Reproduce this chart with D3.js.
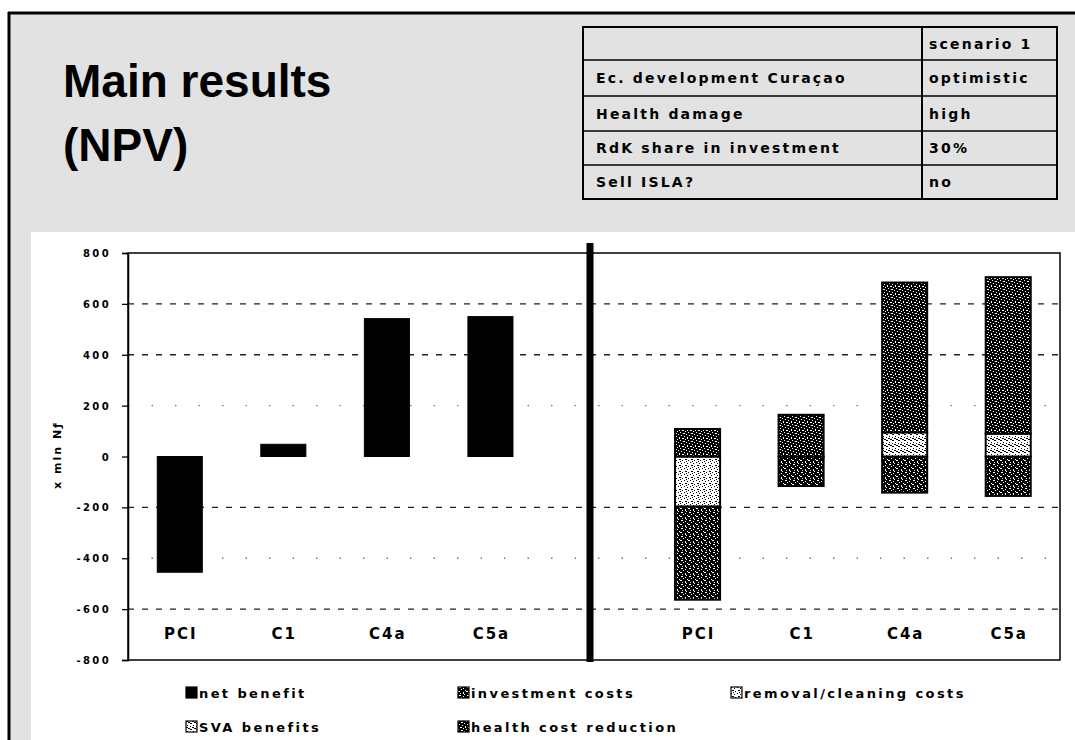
<!DOCTYPE html>
<html>
<head>
<meta charset="utf-8">
<script src="https://cdn.jsdelivr.net/npm/d3@7"></script>
<style>
  html, body { margin: 0; padding: 0; background: #fff; }
  svg { display: block; }
</style>
</head>
<body>
<svg id="slide" width="1075" height="740"></svg>
<script>
// ---- Slide content -------------------------------------------------------
const titleLines = ["Main results", "(NPV)"];

const tableHeader = "scenario 1";
const tableLabels = ["Ec. development Curaçao", "Health damage", "RdK share in investment", "Sell ISLA?"];
const tableValues = ["optimistic", "high", "30%", "no"];

// ---- Chart data (NPV, x mln Nƒ) -----------------------------------------
const categories = ["PCI", "C1", "C4a", "C5a"];
const netBenefit = [-455, 48, 542, 550];
const removalCleaningCosts = [-197, 0, 0, 0];
const investmentCosts = [-366, -116, -142, -155];
const svaBenefits = [0, 0, 95, 90];
const healthCostReduction = [108, 164, 589, 615];

const yTicks = [800, 600, 400, 200, 0, -200, -400, -600, -800];
const yAxisTitle = "x mln Nƒ";
const legendLabels = ["net benefit", "investment costs", "removal/cleaning costs", "SVA benefits", "health cost reduction"];

// ---- Setup ---------------------------------------------------------------
const svg = d3.select("#slide");
const smallFont = "'DejaVu Sans', 'Liberation Sans', Arial, sans-serif";
const titleFont = "'Liberation Sans', Arial, Helvetica, sans-serif";

// fill patterns for the stacked components
const defs = svg.append("defs");
function pattern(id, size, bg, fg, cells) {
  const p = defs.append("pattern").attr("id", id).attr("patternUnits", "userSpaceOnUse")
    .attr("width", size).attr("height", size);
  p.append("rect").attr("width", size).attr("height", size).attr("fill", bg);
  cells.forEach(([cx, cy, w, h]) => p.append("rect").attr("x", cx).attr("y", cy)
    .attr("width", w || 1).attr("height", h || 1).attr("fill", fg));
}
pattern("pInvest", 8, "#000", "#fff",
  [[1, 0, 2, 1], [5, 1], [3, 2], [7, 3], [0, 4, 2, 1], [5, 5, 1, 2], [2, 6], [6, 7]]);
pattern("pHealth", 8, "#000", "#fff",
  [[0, 0], [3, 1, 2, 1], [6, 2], [1, 3], [4, 4], [7, 5, 1, 2], [2, 6, 2, 1], [5, 7]]);
pattern("pRemoval", 6, "#fff", "#000", [[0, 0], [3, 1], [1, 3, 2, 1], [4, 4], [2, 5]]);
pattern("pSVA", 6, "#fff", "#000", [[0, 0, 2, 1], [2, 1, 2, 1], [4, 2, 2, 1], [1, 4], [4, 5]]);

const fills = {
  net: "#000",
  invest: "url(#pInvest)",
  removal: "url(#pRemoval)",
  sva: "url(#pSVA)",
  health: "url(#pHealth)"
};

// ---- Slide background and frame ------------------------------------------
svg.append("rect").attr("x", 9).attr("y", 13).attr("width", 1066).attr("height", 727).attr("fill", "#e2e2e2");
svg.append("rect").attr("x", 31).attr("y", 232).attr("width", 1044).attr("height", 508).attr("fill", "#fff");
svg.append("line").attr("x1", 8).attr("x2", 1075).attr("y1", 13).attr("y2", 13).attr("stroke", "#000").attr("stroke-width", 3);
svg.append("line").attr("x1", 9).attr("x2", 9).attr("y1", 12).attr("y2", 740).attr("stroke", "#000").attr("stroke-width", 3);

// title
svg.append("g").selectAll("text").data(titleLines).join("text")
  .attr("x", 63).attr("y", (d, i) => 97 + i * 64)
  .attr("font-family", titleFont).attr("font-weight", "bold").attr("font-size", 46)
  .attr("fill", "#000").text(d => d);

// scenario table
const table = { x0: 583, x1: 1057, xm: 922, rows: [27, 60, 96, 131, 165, 199] };
const tg = svg.append("g");
tg.append("rect").attr("x", table.x0).attr("y", table.rows[0])
  .attr("width", table.x1 - table.x0).attr("height", table.rows[5] - table.rows[0])
  .attr("fill", "none").attr("stroke", "#000").attr("stroke-width", 2);
tg.append("line").attr("x1", table.xm).attr("x2", table.xm).attr("y1", table.rows[0]).attr("y2", table.rows[5])
  .attr("stroke", "#000").attr("stroke-width", 2);
tg.selectAll("line.row").data(table.rows.slice(1, 5)).join("line").attr("class", "row")
  .attr("x1", table.x0).attr("x2", table.x1).attr("y1", d => d).attr("y2", d => d)
  .attr("stroke", "#000").attr("stroke-width", 1.5);
const rowMid = i => (table.rows[i] + table.rows[i + 1]) / 2;
const tableText = (x, y, t) => tg.append("text").attr("x", x).attr("y", y)
  .attr("font-family", smallFont).attr("font-weight", "bold").attr("font-size", 14)
  .attr("letter-spacing", 2.2).attr("fill", "#000").text(t);
tableText(929, rowMid(0) + 5, tableHeader);
tableLabels.forEach((t, i) => tableText(596, rowMid(i + 1) + 5, t));
tableValues.forEach((t, i) => tableText(929, rowMid(i + 1) + 5, t));

// ---- Chart ---------------------------------------------------------------
const plot = { left: 128, right: 1060, top: 253, bottom: 660 };

// one band per slot: left panel (net benefit), an empty divider slot, right panel (components)
const slots = [...categories.map(c => "L-" + c), "divider", ...categories.map(c => "R-" + c)];
const x = d3.scaleBand().domain(slots).range([plot.left, plot.right])
  .paddingInner(0.565).paddingOuter(0.2825);
const y = d3.scaleLinear().domain([-800, 800]).range([plot.bottom, plot.top]);

const chart = svg.append("g");

// gridlines
const strongGrid = new Set([600, 400, -200, -600]);
const faintGrid = new Set([200, -400]);
chart.append("g").selectAll("line")
  .data(yTicks.filter(v => strongGrid.has(v) || faintGrid.has(v))).join("line")
  .attr("x1", plot.left).attr("x2", plot.right)
  .attr("y1", d => y(d)).attr("y2", d => y(d))
  .attr("stroke", d => strongGrid.has(d) ? "#222" : "#777")
  .attr("stroke-width", 1.3)
  .attr("stroke-dasharray", d => strongGrid.has(d) ? "6,8" : "1.5,22");

// net benefit bars (left panel)
chart.append("g").selectAll("rect").data(categories.map((c, i) => ({ c, v: netBenefit[i] }))).join("rect")
  .attr("x", d => x("L-" + d.c)).attr("width", x.bandwidth())
  .attr("y", d => y(Math.max(0, d.v))).attr("height", d => Math.abs(y(d.v) - y(0)))
  .attr("fill", fills.net).attr("stroke", "#000").attr("stroke-width", 1);

// component bars (right panel), stacked above and below zero
const keys = ["removal", "invest", "sva", "health"];
const rows = categories.map((c, i) => ({
  c,
  removal: removalCleaningCosts[i],
  invest: investmentCosts[i],
  sva: svaBenefits[i],
  health: healthCostReduction[i]
}));
const stacked = d3.stack().keys(keys).offset(d3.stackOffsetDiverging)(rows);
chart.append("g").selectAll("g").data(stacked).join("g")
  .attr("fill", s => fills[s.key])
  .selectAll("rect").data(s => s.filter(p => p[1] !== p[0])).join("rect")
  .attr("x", p => x("R-" + p.data.c)).attr("width", x.bandwidth())
  .attr("y", p => y(Math.max(p[0], p[1]))).attr("height", p => Math.abs(y(p[0]) - y(p[1])))
  .attr("stroke", "#000").attr("stroke-width", 2);

// plot frame
chart.append("rect").attr("x", plot.left).attr("y", plot.top)
  .attr("width", plot.right - plot.left).attr("height", plot.bottom - plot.top)
  .attr("fill", "none").attr("stroke", "#000").attr("stroke-width", 1.5);

// divider between the two panels
const divX = x("divider") + x.bandwidth() / 2 - 4;
chart.append("line").attr("x1", divX).attr("x2", divX).attr("y1", plot.top - 10).attr("y2", plot.bottom + 2)
  .attr("stroke", "#000").attr("stroke-width", 7);

// y axis
const yAxis = chart.append("g").attr("transform", `translate(${plot.left},0)`)
  .call(d3.axisLeft(y).tickValues(yTicks).tickSize(6).tickPadding(11).tickFormat(d3.format("d")));
yAxis.select(".domain").attr("stroke", "#000").attr("stroke-width", 1.5);
yAxis.selectAll(".tick line").attr("stroke", "#000").attr("stroke-width", 1.3);
yAxis.selectAll(".tick text").attr("font-family", smallFont).attr("font-weight", "bold")
  .attr("font-size", 10).attr("letter-spacing", 2.4).attr("fill", "#000").attr("dy", "0.35em")
  .text(d => d3.format("d")(d).replace("\u2212", "-"));

// y axis title
chart.append("text").attr("transform", "translate(61,455) rotate(-90)")
  .attr("text-anchor", "middle").attr("font-family", smallFont).attr("font-weight", "bold")
  .attr("font-size", 11).attr("letter-spacing", 2).attr("fill", "#000").text(yAxisTitle);

// category labels under both panels
const labelSlots = [...categories.map(c => "L-" + c), ...categories.map(c => "R-" + c)];
chart.append("g").selectAll("text").data(labelSlots).join("text")
  .attr("x", d => x(d) + x.bandwidth() / 2 + 1).attr("y", 639)
  .attr("text-anchor", "middle").attr("font-family", smallFont).attr("font-weight", "bold")
  .attr("font-size", 15).attr("letter-spacing", 2).attr("fill", "#000")
  .text(d => d.slice(2));

// legend
const legendItems = [
  { label: legendLabels[0], fill: fills.net, col: 0, row: 0 },
  { label: legendLabels[1], fill: fills.invest, col: 1, row: 0 },
  { label: legendLabels[2], fill: fills.removal, col: 2, row: 0 },
  { label: legendLabels[3], fill: fills.sva, col: 0, row: 1 },
  { label: legendLabels[4], fill: fills.health, col: 1, row: 1 }
];
const legendCols = [186, 458, 731];
const legendRows = [687, 721];
const lg = svg.append("g").selectAll("g").data(legendItems).join("g")
  .attr("transform", d => `translate(${legendCols[d.col]},${legendRows[d.row]})`);
lg.append("rect").attr("width", 11).attr("height", 11)
  .attr("fill", d => d.fill).attr("stroke", "#000").attr("stroke-width", 1.2);
lg.append("text").attr("x", 13).attr("y", 11)
  .attr("font-family", smallFont).attr("font-weight", "bold").attr("font-size", 13)
  .attr("letter-spacing", 2.4).attr("fill", "#000").text(d => d.label);
</script>
</body>
</html>
